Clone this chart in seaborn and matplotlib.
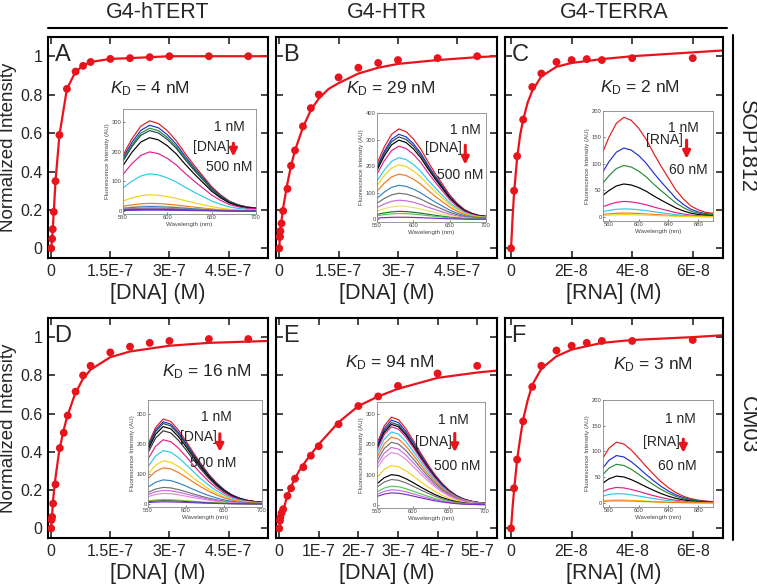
import matplotlib
matplotlib.use("Agg")
import numpy as np
import pandas as pd
import seaborn as sns
import matplotlib.pyplot as plt
from matplotlib.lines import Line2D

# ---------------- binding titrations: concentration (M) vs normalized intensity
a_conc = [0, 2.5e-9, 4e-9, 6.7e-9, 1.1e-8, 2.1e-8, 4e-8, 6.2e-8, 8.1e-8, 1e-7, 1.5e-7, 2e-7, 2.5e-7, 3e-7, 4e-7, 5e-7]
a_int = [0, 0.05, 0.10, 0.19, 0.35, 0.59, 0.83, 0.92, 0.95, 0.97, 0.986, 0.99, 0.995, 1.0, 1.0, 1.0]
a_fit_x = [0, 2.5e-9, 4e-9, 6.7e-9, 1.1e-8, 2.1e-8, 4e-8, 6.2e-8, 8.1e-8, 1e-7, 1.5e-7, 2e-7, 2.5e-7, 3e-7, 4e-7, 5e-7, 5.5e-7]
a_fit_y = [0, 0.05, 0.10, 0.19, 0.35, 0.59, 0.83, 0.92, 0.95, 0.97, 0.986, 0.99, 0.995, 1.0, 1.0, 1.0, 1.0]

b_conc = [0, 1e-9, 2e-9, 3e-9, 6e-9, 1e-8, 2.1e-8, 3e-8, 4e-8, 6e-8, 8e-8, 1e-7, 1.5e-7, 2e-7, 2.5e-7, 3e-7, 4e-7, 5e-7]
b_int = [0, 0.06, 0.06, 0.09, 0.13, 0.195, 0.31, 0.43, 0.51, 0.635, 0.73, 0.80, 0.89, 0.94, 0.965, 0.98, 0.99, 1.0]
b_fit_x = [0, 2e-9, 5e-9, 1e-8, 2e-8, 3e-8, 4e-8, 6e-8, 8e-8, 1e-7, 1.25e-7, 1.5e-7, 2e-7, 2.5e-7, 3e-7, 4e-7, 5e-7, 5.5e-7]
b_fit_y = [0, 0.06, 0.13, 0.21, 0.33, 0.43, 0.51, 0.63, 0.72, 0.78, 0.83, 0.86, 0.91, 0.94, 0.96, 0.98, 0.995, 1.0]

c_conc = [0, 1e-9, 2e-9, 4e-9, 7e-9, 1e-8, 1.5e-8, 2e-8, 2.5e-8, 3e-8, 4e-8, 6e-8]
c_int = [0, 0.30, 0.48, 0.67, 0.84, 0.91, 0.97, 0.98, 0.985, 0.98, 0.99, 0.99]
c_fit_x = [0, 5e-10, 1e-9, 2e-9, 3e-9, 4e-9, 5.5e-9, 7e-9, 1e-8, 1.5e-8, 2e-8, 3e-8, 4e-8, 5e-8, 6e-8, 7e-8]
c_fit_y = [0, 0.16, 0.29, 0.47, 0.59, 0.67, 0.76, 0.82, 0.895, 0.945, 0.965, 0.985, 1.0, 1.01, 1.02, 1.03]

d_conc = [0, 1e-9, 2.5e-9, 5e-9, 1.1e-8, 2.2e-8, 3.2e-8, 4.2e-8, 6.2e-8, 8.1e-8, 1e-7, 1.5e-7, 2e-7, 2.5e-7, 3e-7, 4e-7, 5e-7]
d_int = [0, 0.045, 0.06, 0.13, 0.23, 0.42, 0.50, 0.59, 0.715, 0.80, 0.85, 0.92, 0.95, 0.97, 0.98, 0.99, 0.99]
d_fit_x = [0, 2e-9, 5e-9, 1e-8, 2e-8, 3e-8, 4e-8, 6e-8, 8e-8, 1e-7, 1.5e-7, 2e-7, 3e-7, 4e-7, 5.5e-7]
d_fit_y = [0, 0.06, 0.15, 0.25, 0.40, 0.50, 0.58, 0.70, 0.78, 0.83, 0.895, 0.925, 0.955, 0.97, 0.98]

e_conc = [0, 2e-9, 3e-9, 6e-9, 1e-8, 2.1e-8, 3e-8, 4e-8, 6.1e-8, 8e-8, 1e-7, 1.5e-7, 2e-7, 2.5e-7, 3e-7, 4e-7, 5e-7]
e_int = [0, 0.04, 0.056, 0.08, 0.10, 0.17, 0.21, 0.26, 0.32, 0.38, 0.43, 0.545, 0.64, 0.69, 0.745, 0.81, 0.85]
e_fit_x = [0, 5e-9, 1e-8, 2e-8, 3e-8, 5e-8, 7e-8, 1e-7, 1.5e-7, 2e-7, 2.5e-7, 3e-7, 4e-7, 5e-7, 5.5e-7]
e_fit_y = [0, 0.05, 0.09, 0.17, 0.22, 0.30, 0.36, 0.44, 0.555, 0.64, 0.69, 0.73, 0.787, 0.815, 0.825]

f_conc = [0, 1e-9, 2e-9, 4e-9, 7e-9, 1e-8, 1.5e-8, 2e-8, 2.5e-8, 3e-8, 4e-8, 6e-8]
f_int = [0, 0.21, 0.36, 0.56, 0.74, 0.85, 0.93, 0.955, 0.97, 0.98, 0.98, 0.985]
f_fit_x = [0, 5e-10, 1e-9, 2e-9, 3e-9, 4e-9, 5.5e-9, 7e-9, 1e-8, 1.5e-8, 2e-8, 3e-8, 4e-8, 6e-8, 7e-8]
f_fit_y = [0, 0.11, 0.20, 0.36, 0.47, 0.57, 0.67, 0.75, 0.835, 0.90, 0.935, 0.97, 0.985, 1.0, 1.01]

# ---------------- inset spectra: wavelength grid, normalized band shapes, peak heights
wavelength = [550, 560, 570, 580, 590, 600, 610, 620, 630, 640, 650, 660, 670, 680, 690, 700]
shape_580 = [0.62, 0.80, 0.94, 1.00, 0.97, 0.89, 0.78, 0.64, 0.51, 0.39, 0.27, 0.18, 0.11, 0.07, 0.045, 0.035]
shape_572 = [0.70, 0.90, 1.00, 0.97, 0.87, 0.74, 0.60, 0.47, 0.35, 0.25, 0.17, 0.11, 0.07, 0.045, 0.03, 0.02]

a_peaks = [305, 290, 280, 272, 248, 200, 126, 55, 26, 18, 15, 10, 8, 6, 3]
b_peaks = [340, 320, 310, 298, 275, 232, 205, 170, 128, 98, 72, 50, 30, 22, 8]
c_peaks = [188, 130, 97, 62, 29, 15, 7, 4]
d_peaks = [282, 273, 267, 257, 243, 213, 177, 143, 120, 80, 55, 45, 35, 15, 11, 7]
e_peaks = [290, 280, 272, 266, 258, 241, 224, 207, 190, 173, 130, 100, 84, 62, 50, 40]
f_peaks = [118, 92, 75, 52, 30, 18, 6, 4]

# ---------------- text
col_titles = ["G4-hTERT", "G4-HTR", "G4-TERRA"]
row_titles = ["SOP1812", "CM03"]
panel_letters = ["A", "B", "C", "D", "E", "F"]
kd_labels = ["4 nM", "29 nM", "2 nM", "16 nM", "94 nM", "3 nM"]
x_labels = ["[DNA] (M)", "[DNA] (M)", "[RNA] (M)", "[DNA] (M)", "[DNA] (M)", "[RNA] (M)"]
ticks_dna = [0, 1.5e-7, 3e-7, 4.5e-7]
ticklabels_dna = ["0", "1.5E-7", "3E-7", "4.5E-7"]
ticks_rna = [0, 2e-8, 4e-8, 6e-8]
ticklabels_rna = ["0", "2E-8", "4E-8", "6E-8"]
ticks_e = [0, 1e-7, 2e-7, 3e-7, 4e-7, 5e-7]
ticklabels_e = ["0", "1E-7", "2E-7", "3E-7", "4E-7", "5E-7"]
y_ticks = [0, 0.2, 0.4, 0.6, 0.8, 1.0]
y_ticklabels = ["0", "0.2", "0.4", "0.6", "0.8", "1"]

RED = "#e8141c"
sp_red, sp_blue, sp_green, sp_teal = "#e41a1c", "#1f2fd0", "#2a8a3a", "#1d4a50"
sp_mag, sp_cyan, sp_yel, sp_org = "#e0218a", "#30c8e8", "#f2d21a", "#f07a20"
sp_steel, sp_gray, sp_vio, sp_pink = "#3a82c0", "#707070", "#c070d8", "#e58ad8"
sp_dkg, sp_pur, sp_lyel, sp_lgr = "#2e6b2e", "#7a2ec8", "#e8e070", "#4ccf4c"
a_colors = [sp_red, sp_blue, sp_green, sp_teal, "black", sp_mag, sp_cyan, sp_yel, sp_org, sp_lyel,
            sp_steel, sp_gray, sp_vio, sp_dkg, sp_pur]
b_colors = [sp_red, sp_blue, sp_teal, "black", sp_mag, sp_cyan, sp_yel, sp_org, sp_steel, sp_gray,
            sp_vio, sp_lyel, sp_dkg, sp_lgr, sp_pur]
c_colors = [sp_red, sp_blue, sp_green, "black", sp_mag, sp_cyan, sp_org, sp_yel]
d_colors = [sp_red, sp_blue, sp_teal, "black", "#333333", sp_mag, sp_cyan, sp_yel, sp_org, sp_steel,
            sp_gray, sp_vio, sp_pink, "#a8c830", sp_dkg, sp_pur]
e_colors = [sp_red, sp_blue, sp_teal, "black", sp_mag, sp_cyan, sp_org, sp_gray, sp_vio, sp_pink,
            sp_yel, "black", sp_gray, sp_lgr, sp_vio, sp_pur]
f_colors = [sp_red, sp_blue, sp_green, "black", sp_mag, sp_cyan, sp_yel, sp_org]

sns.set_style("ticks")
plt.rcParams["font.family"] = ["Liberation Sans", "DejaVu Sans"]
plt.rcParams["mathtext.fontset"] = "custom"
plt.rcParams["mathtext.rm"] = "Liberation Sans"
plt.rcParams["mathtext.it"] = "Liberation Sans:italic"

W, H = 757, 588
fig = plt.figure(figsize=(W / 100, H / 100), dpi=100)


def px(l, t, r, b):
    return [l / W, 1 - b / H, (r - l) / W, (b - t) / H]


main_boxes = [(48, 37, 268, 258), (276, 37, 497, 258), (505, 37, 723, 258),
              (48, 318, 268, 538), (276, 318, 497, 538), (505, 318, 723, 538)]
inset_boxes = [(123, 109, 256, 214), (377, 113, 486, 222), (603, 111, 713, 221),
               (148, 400, 262, 507), (377, 402, 485, 508), (603, 400, 713, 507)]
kd_pos = [(0.28, 0.765), (0.317, 0.765), (0.436, 0.77), (0.52, 0.755), (0.312, 0.795), (0.495, 0.79)]
# inset annotation layout: (x of "1 nM", y), (label y), (arrow x, y0, y1), (end x, y)
ann = [((0.80, 0.83), 0.64, (0.83, 0.70, 0.52), (0.80, 0.45)),
       ((0.81, 0.84), 0.68, (0.81, 0.73, 0.50), (0.76, 0.43)),
       ((0.73, 0.85), 0.74, (0.76, 0.76, 0.54), (0.78, 0.46)),
       ((0.60, 0.84), 0.65, (0.63, 0.71, 0.49), (0.57, 0.41)),
       ((0.71, 0.83), 0.62, (0.72, 0.73, 0.50), (0.74, 0.40)),
       ((0.70, 0.82), 0.61, (0.73, 0.66, 0.48), (0.68, 0.38))]

panels = [
    dict(conc=a_conc, y=a_int, fx=a_fit_x, fy=a_fit_y, xlim=(-8e-9, 5.5e-7), ticks=ticks_dna, tl=ticklabels_dna,
         peaks=a_peaks, colors=a_colors, shape=shape_580, ilim=(-10, 345), iticks=[0, 100, 200, 300],
         ixlim=(550, 700), ixticks=[550, 600, 650, 700], sp="[DNA]", end="500 nM"),
    dict(conc=b_conc, y=b_int, fx=b_fit_x, fy=b_fit_y, xlim=(-8e-9, 5.5e-7), ticks=ticks_dna, tl=ticklabels_dna,
         peaks=b_peaks, colors=b_colors, shape=shape_580, ilim=(-10, 400), iticks=[0, 100, 200, 300, 400],
         ixlim=(550, 700), ixticks=[550, 600, 650, 700], sp="[DNA]", end="500 nM"),
    dict(conc=c_conc, y=c_int, fx=c_fit_x, fy=c_fit_y, xlim=(-2e-9, 7e-8), ticks=ticks_rna, tl=ticklabels_rna,
         peaks=c_peaks, colors=c_colors, shape=shape_580, ilim=(-8, 200), iticks=[0, 50, 100, 150, 200],
         ixlim=(552, 700), ixticks=[560, 600, 640, 680], sp="[RNA]", end="60 nM"),
    dict(conc=d_conc, y=d_int, fx=d_fit_x, fy=d_fit_y, xlim=(-8e-9, 5.5e-7), ticks=ticks_dna, tl=ticklabels_dna,
         peaks=d_peaks, colors=d_colors, shape=shape_572, ilim=(-10, 345), iticks=[0, 100, 200, 300],
         ixlim=(550, 700), ixticks=[550, 600, 650, 700], sp="[DNA]", end="500 nM"),
    dict(conc=e_conc, y=e_int, fx=e_fit_x, fy=e_fit_y, xlim=(-8e-9, 5.5e-7), ticks=ticks_e, tl=ticklabels_e,
         peaks=e_peaks, colors=e_colors, shape=shape_572, ilim=(-10, 340), iticks=[0, 100, 200, 300],
         ixlim=(550, 700), ixticks=[550, 600, 650, 700], sp="[DNA]", end="500 nM"),
    dict(conc=f_conc, y=f_int, fx=f_fit_x, fy=f_fit_y, xlim=(-2e-9, 7e-8), ticks=ticks_rna, tl=ticklabels_rna,
         peaks=f_peaks, colors=f_colors, shape=shape_572, ilim=(-8, 200), iticks=[0, 50, 100, 150, 200],
         ixlim=(552, 700), ixticks=[560, 600, 640, 680], sp="[RNA]", end="60 nM"),
]

for i, p in enumerate(panels):
    ax = fig.add_axes(px(*main_boxes[i]))
    sns.lineplot(x=p["fx"], y=p["fy"], color=RED, lw=1.6, ax=ax, zorder=2)
    sns.scatterplot(x=p["conc"], y=p["y"], color=RED, s=32, edgecolor="none", ax=ax, zorder=3)
    ax.set_xlim(*p["xlim"])
    ax.set_ylim(-0.05, 1.1)
    ax.set_xticks(p["ticks"], p["tl"])
    ax.set_yticks(y_ticks, y_ticklabels if i % 3 == 0 else [])
    ax.tick_params(direction="in", top=True, right=True, length=5, width=1.2, labelsize=11.5, pad=4)
    for s in ax.spines.values():
        s.set_linewidth(1.5)
        s.set_color("black")
    ax.set_xlabel(x_labels[i], fontsize=15.5, labelpad=3)
    if i % 3 == 0:
        ax.set_ylabel("Normalized Intensity", fontsize=13.5)
        ax.yaxis.set_label_coords(-0.14, 0.5)
    ax.text(0.03, 0.92, panel_letters[i], transform=ax.transAxes, fontsize=17, ha="left", va="center")
    ax.text(kd_pos[i][0], kd_pos[i][1], r"$K_\mathrm{D}$ = " + kd_labels[i], transform=ax.transAxes,
            fontsize=12.5, ha="left", va="center")

    # inset with emission spectra
    ins = fig.add_axes(px(*inset_boxes[i]))
    rows = []
    for k, pk in enumerate(p["peaks"]):
        for w, s in zip(wavelength, p["shape"]):
            rows.append((k, w, s * pk))
    spec = pd.DataFrame(rows, columns=["curve", "wl", "fl"])
    sns.lineplot(data=spec, x="wl", y="fl", hue="curve", palette=p["colors"][:len(p["peaks"])],
                 legend=False, lw=0.85, ax=ins)
    ins.set_xlim(*p["ixlim"])
    ins.set_ylim(*p["ilim"])
    ins.set_xticks(p["ixticks"])
    ins.set_yticks(p["iticks"])
    ins.tick_params(direction="in", length=1.5, width=0.5, labelsize=4.2, pad=1, colors="#444444")
    for s in ins.spines.values():
        s.set_linewidth(0.6)
        s.set_color("#888888")
    ins.set_xlabel("Wavelength (nm)", fontsize=4.4, labelpad=1, color="#444444")
    ins.set_ylabel("Fluorescence Intensity (AU)", fontsize=4.4, labelpad=1, color="#444444")
    (tx, ty), ly, (arx, ay0, ay1), (ex, ey) = ann[i]
    ins.text(tx, ty, "1 nM", transform=ins.transAxes, fontsize=10, ha="center", va="center", clip_on=False)
    ins.text(arx - 0.03, ly, p["sp"], transform=ins.transAxes, fontsize=10, ha="right", va="center",
             clip_on=False)
    ins.annotate("", xy=(arx, ay1), xytext=(arx, ay0), xycoords="axes fraction",
                 arrowprops=dict(arrowstyle="-|>", color=RED, lw=2.2, mutation_scale=11))
    ins.text(ex, ey, p["end"], transform=ins.transAxes, fontsize=10, ha="center", va="center", clip_on=False)

# column / row titles and frame lines
for j, (l, t, r, b) in enumerate(main_boxes[:3]):
    fig.text((l + r) / 2 / W, 1 - 12 / H, col_titles[j], fontsize=15.5, ha="center", va="center")
fig.add_artist(Line2D([48 / W, 727 / W], [1 - 28 / H, 1 - 28 / H], color="black", lw=1.5))
fig.add_artist(Line2D([733 / W, 733 / W], [1 - 35 / H, 1 - 540 / H], color="black", lw=1.5))
fig.text(747 / W, 1 - 145 / H, row_titles[0], fontsize=15.5, rotation=-90, ha="center", va="center")
fig.text(747 / W, 1 - 425 / H, row_titles[1], fontsize=15.5, rotation=-90, ha="center", va="center")

fig.savefig("out.png", dpi=100)
